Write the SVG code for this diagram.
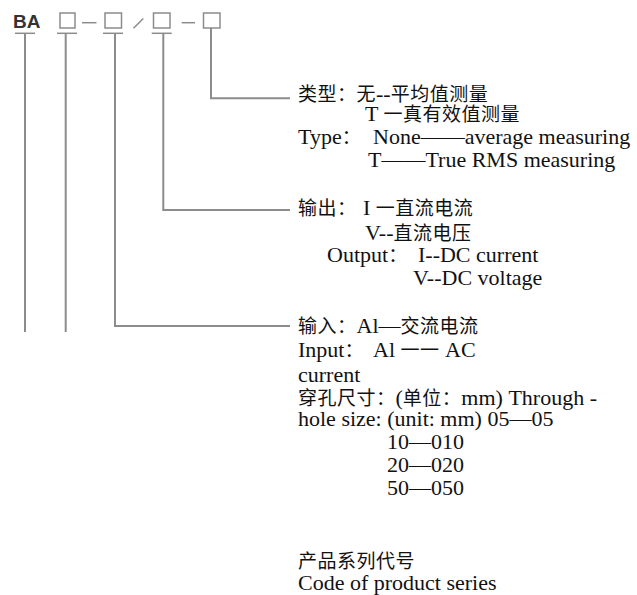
<svg xmlns="http://www.w3.org/2000/svg" width="637" height="595" viewBox="0 0 637 595">
<style>
.t{font-family:"Liberation Serif","Noto Sans CJK SC",serif;font-size:22px;fill:#111}
.c{font-family:"Noto Sans CJK SC",sans-serif;font-size:19px;letter-spacing:0.5px}
.box{fill:none;stroke:#8c8c8c;stroke-width:1.5}
.ul{stroke:#8c8c8c;stroke-width:1.5}
.ln{fill:none;stroke:#8c8c8c;stroke-width:2}
.ba{font-family:"Liberation Sans",Arial,sans-serif;font-weight:bold;font-size:19px;fill:#333}
</style>
<rect width="637" height="595" fill="#fff"/>
<g id="code-ba">
<text class="ba" x="13" y="27.5">BA</text>
<line class="ul" x1="15" y1="33.3" x2="35" y2="33.3"/>
</g>
<g id="code-box1">
<rect class="box" x="60" y="13" width="15" height="15"/>
<line class="ul" x1="57" y1="33.3" x2="77" y2="33.3"/>
</g>
<g id="sep1"><line class="ul" x1="82" y1="22.7" x2="96.5" y2="22.7"/></g>
<g id="code-box2">
<rect class="box" x="105" y="13" width="16.5" height="15"/>
<line class="ul" x1="103" y1="33.3" x2="123" y2="33.3"/>
</g>
<g id="sep2"><line class="ul" x1="133.5" y1="28.3" x2="143.3" y2="18.5"/></g>
<g id="code-box3">
<rect class="box" x="153.5" y="13" width="16.5" height="15"/>
<line class="ul" x1="151.7" y1="33.3" x2="171.7" y2="33.3"/>
</g>
<g id="sep3"><line class="ul" x1="181.7" y1="22.7" x2="195" y2="22.7"/></g>
<g id="code-box4">
<rect class="box" x="203.5" y="13" width="16.5" height="15"/>
</g>
<g id="connectors">
<path class="ln" d="M25 33.3V332" stroke="#555"/>
<path class="ln" d="M65.7 33.3V332"/>
<path class="ln" d="M115 33.3V326H290"/>
<path class="ln" d="M163.3 33.3V210H290"/>
<path class="ln" d="M211 28V98.3H290"/>
</g>
<g id="label-type">
<text class="t" x="298" y="101"><tspan class="c">类型：无</tspan>--<tspan class="c">平均值测量</tspan></text>
<text class="t" x="365" y="121">T <tspan class="c">一真有效值测量</tspan></text>
<text class="t" x="298" y="144">Type<tspan class="c">：</tspan><tspan x="373">None——average measuring</tspan></text>
<text class="t" x="368" y="167">T——True RMS measuring</text>
</g>
<g id="label-output">
<text class="t" x="298" y="215"><tspan class="c">输出：</tspan><tspan x="363">I </tspan><tspan class="c">一直流电流</tspan></text>
<text class="t" x="365" y="240">V--<tspan class="c">直流电压</tspan></text>
<text class="t" x="327" y="262">Output<tspan class="c">：</tspan><tspan x="418">I--DC current</tspan></text>
<text class="t" x="413" y="285">V--DC voltage</text>
</g>
<g id="label-input">
<text class="t" x="298" y="333"><tspan class="c">输入：</tspan>Al—<tspan class="c">交流电流</tspan></text>
<text class="t" x="298" y="357">Input<tspan class="c">：</tspan><tspan x="373">Al </tspan><tspan class="c">一一</tspan> AC</text>
<text class="t" x="298" y="382">current</text>
<text class="t" x="298" y="405"><tspan class="c">穿孔尺寸：</tspan>(<tspan class="c">单位：</tspan>mm) Through -</text>
<text class="t" x="298" y="426">hole size: (unit: mm) 05—05</text>
<text class="t" x="387" y="449">10—010</text>
<text class="t" x="387" y="472">20—020</text>
<text class="t" x="387" y="495">50—050</text>
</g>
<g id="label-series">
<text class="t" x="298" y="568"><tspan class="c">产品系列代号</tspan></text>
<text class="t" x="298" y="590">Code of product series</text>
</g>
</svg>
